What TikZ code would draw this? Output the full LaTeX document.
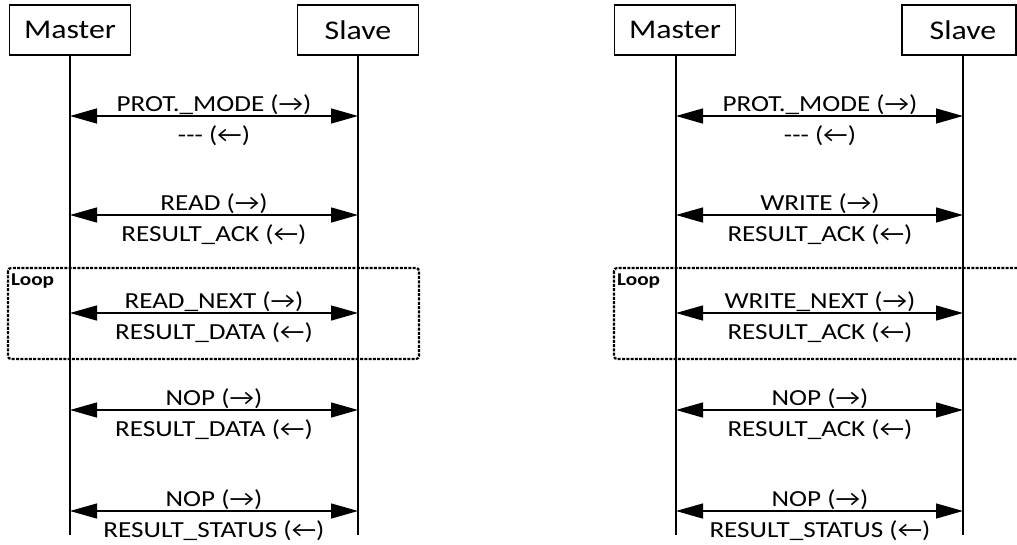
\documentclass[tikz,border=0pt]{standalone}
\usepackage{fontspec}
\setmainfont{Carlito}[FakeStretch=1.18]
\usetikzlibrary{arrows.meta}
\newcommand{\rarr}{\char"2192}
\newcommand{\larr}{\char"2190}
\newcommand{\dashes}{-\kern0pt-\kern0pt-}
\tikzset{
  actor/.style={draw, line width=1.2pt, minimum width=121pt, minimum height=50pt,
    inner sep=0pt, font=\fontsize{27}{29}\selectfont},
  life/.style={line width=1.3pt},
  msg/.style={line width=1.3pt, {Triangle[length=27pt,width=15pt]}-{Triangle[length=27pt,width=15pt]}},
  lbl/.style={anchor=base, inner sep=0pt, font=\fontsize{23}{25}\selectfont},
  loopbox/.style={line width=2.2pt, dash pattern=on 3pt off 1.3pt, rounded corners=3pt},
  looplbl/.style={anchor=north west, inner sep=0pt, font=\fontsize{18}{19}\selectfont\bfseries}
}
\begin{document}
\begin{tikzpicture}[x=1pt,y=-1pt]
  \useasboundingbox (0,0) rectangle (1017,544);

  % read sequence
  \node[actor] (m1) at (70,30) {Master};
  \node[actor] (s1) at (358,30) {Slave};
  \coordinate (m1end) at (70,535);
  \coordinate (s1end) at (358,535);
  \draw[life] (m1.south) -- (m1end);
  \draw[life] (s1.south) -- (s1end);

  \draw[loopbox] (8,268) rectangle (419,359);
  \node[looplbl] (loop1) at (11,274) {Loop};

  \foreach \y/\top/\bot [count=\i] in {116/PROT.\_MODE/\dashes, 215/READ/RESULT\_ACK,
      313/READ\_NEXT/RESULT\_DATA, 410/NOP/RESULT\_DATA, 511/NOP/RESULT\_STATUS} {
    \coordinate (a\i) at (70,\y);
    \coordinate (b\i) at (358,\y);
    \draw[msg] (a\i) -- (b\i);
    \node[lbl] (rq\i) at (214,{\y-5}) {\top{} (\rarr)};
    \node[lbl] (rs\i) at (214,{\y+26}) {\bot{} (\larr)};
  }

  % write sequence
  \node[actor] (m2) at (675,30) {Master};
  \node[actor, minimum width=114pt] (s2) at (959,30) {\hspace*{8pt}Slave};
  \coordinate (m2top) at (676,55);
  \coordinate (s2top) at (963,55);
  \coordinate (m2end) at (676,535);
  \coordinate (s2end) at (963,535);
  \draw[life] (m2top) -- (m2end);
  \draw[life] (s2top) -- (s2end);

  \draw[loopbox] (614,268) rectangle (1040,359);
  \node[looplbl] (loop2) at (617,274) {Loop};

  \foreach \y/\top/\bot [count=\i] in {116/PROT.\_MODE/\dashes, 215/WRITE/RESULT\_ACK,
      313/WRITE\_NEXT/RESULT\_ACK, 410/NOP/RESULT\_ACK, 511/NOP/RESULT\_STATUS} {
    \coordinate (c\i) at (676,\y);
    \coordinate (d\i) at (963,\y);
    \draw[msg] (c\i) -- (d\i);
    \node[lbl] (wq\i) at (820,{\y-5}) {\top{} (\rarr)};
    \node[lbl] (ws\i) at (820,{\y+26}) {\bot{} (\larr)};
  }
\end{tikzpicture}
\end{document}
